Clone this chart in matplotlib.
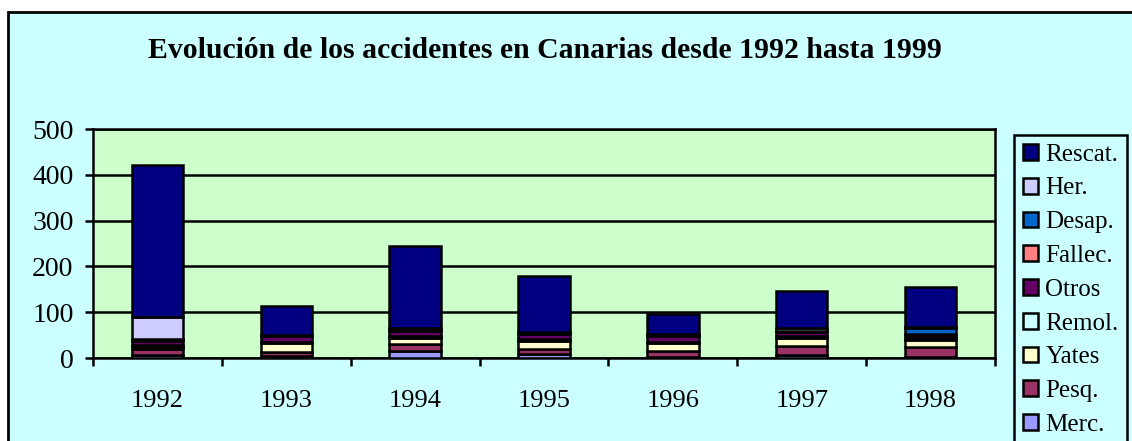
import matplotlib
matplotlib.use('Agg')
import matplotlib.pyplot as plt
import matplotlib.patches as mpatches
import numpy as np

years = ['1992', '1993', '1994', '1995', '1996', '1997', '1998']
series = ['Merc.', 'Pesq.', 'Yates', 'Remol.', 'Otros', 'Fallec.', 'Desap.', 'Her.', 'Rescat.']
merc = [6, 5, 15, 8, 3, 6, 3]
pesq = [14, 9, 15, 12, 12, 20, 20]
yates = [5, 18, 14, 18, 18, 18, 16]
remol = [3, 3, 4, 3, 3, 5, 4]
otros = [10, 12, 12, 12, 12, 8, 8]
fallec = [2, 1, 1, 1, 1, 2, 2]
desap = [2, 1, 1, 1, 1, 1, 13]
her = [47, 2, 4, 2, 2, 6, 2]
rescat = [333, 62, 179, 122, 45, 80, 86]
colors = ['#9999FF', '#993366', '#FFFFCC', '#CCFFFF', '#660066',
          '#FF8080', '#0066CC', '#CCCCFF', '#000080']
yticks = [0, 100, 200, 300, 400, 500]

plt.rcParams['font.family'] = ['Liberation Serif', 'DejaVu Serif']

W, H = 1132, 441
fig = plt.figure(figsize=(W / 100, H / 100), dpi=100, facecolor='white')

# outer chart frame
fig.patches.append(mpatches.Rectangle((8 / W, -0.05), 1.2, 1 - 12 / H + 0.05,
                                      transform=fig.transFigure, facecolor='#CCFFFF',
                                      edgecolor='black', linewidth=2, zorder=-10))

ax = fig.add_axes([93 / W, (H - 358) / H, 902 / W, 229 / H])
ax.set_facecolor('#CCFFCC')

data = [merc, pesq, yates, remol, otros, fallec, desap, her, rescat]
x = np.arange(len(years))
bottom = np.zeros(len(years))
handles = []
for name, vals, col in zip(series, data, colors):
    b = ax.bar(x, vals, width=0.4, bottom=bottom, color=col, edgecolor='black',
               linewidth=1.8, label=name, zorder=3)
    handles.append(b)
    bottom += np.array(vals)

ax.set_xlim(-0.5, len(years) - 0.5)
ax.set_ylim(0, 500)
ax.set_yticks(yticks)
ax.set_yticklabels([str(v) for v in yticks], fontsize=20)
ax.set_xticks(x)
ax.set_xticklabels(years, fontsize=19)
ax.tick_params(axis='x', length=0, pad=23)
ax.set_xticks(np.arange(-0.5, len(years), 1), minor=True)
ax.tick_params(axis='x', which='minor', length=6, width=1.8, direction='out')
ax.tick_params(axis='y', length=6, width=1.8, direction='out', pad=8)
ax.grid(axis='y', color='black', linewidth=1.8, zorder=1)
for s in ax.spines.values():
    s.set_linewidth(1.8)

fig.text(545 / W, 1 - 51 / H, 'Evolución de los accidentes en Canarias desde 1992 hasta 1999',
         ha='center', va='center', fontsize=21.4, fontweight='bold')

leg = fig.legend(handles[::-1], series[::-1], loc='upper left',
                 bbox_to_anchor=(1014 / W, 1 - 135 / H), fontsize=18,
                 frameon=True, fancybox=False, edgecolor='black', facecolor='#CCFFFF',
                 handlelength=0.6, handleheight=0.6, handletextpad=0.3,
                 labelspacing=0.47, borderpad=0.35, borderaxespad=0)
leg.get_frame().set_linewidth(1.8)
leg.get_frame().set_alpha(1)

fig.savefig('out.png', dpi=100, facecolor='white')
